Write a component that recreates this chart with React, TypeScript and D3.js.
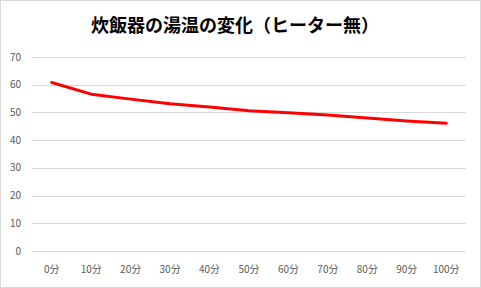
import React from "react";
import * as d3 from "d3";

const categories = ["0分", "10分", "20分", "30分", "40分", "50分", "60分", "70分", "80分", "90分", "100分"];
const temps = [60.8, 56.6, 54.8, 53.1, 52.0, 50.6, 49.9, 49.1, 48.0, 46.9, 46.1];
const yTicks = [0, 10, 20, 30, 40, 50, 60, 70];
const title = "炊飯器の湯温の変化（ヒーター無）";

const W = 481;
const H = 288;
const M = { left: 32, right: 15, top: 57, bottom: 37 };

export default function App() {
  const x = d3
    .scaleBand<string>()
    .domain(categories)
    .range([M.left, W - M.right])
    .paddingInner(0)
    .paddingOuter(0);
  const y = d3.scaleLinear().domain([0, 70]).range([H - M.bottom, M.top]);
  const line = d3
    .line<number>()
    .x((_, i) => (x(categories[i]) as number) + x.bandwidth() / 2)
    .y((d) => y(d));
  const font = "'Noto Sans CJK JP', 'Noto Sans', sans-serif";
  return (
    <svg
      width={W}
      height={H}
      style={{ position: "fixed", left: 0, top: 0, background: "#fff" }}
      fontFamily={font}
    >
      <rect x={0.5} y={0.5} width={W - 1} height={H - 1} fill="#fff" stroke="#d9d9d9" />
      <text x={235} y={32} textAnchor="middle" fontSize={18} fontWeight="bold" fill="#000">
        {title}
      </text>
      {yTicks.map((t) => (
        <g key={t}>
          <line x1={M.left} x2={W - M.right} y1={Math.round(y(t)) + 0.5} y2={Math.round(y(t)) + 0.5} stroke="#d9d9d9" />
          <text x={21} y={y(t)} dy="0.35em" textAnchor="end" fontSize={10} fill="#595959">
            {t}
          </text>
        </g>
      ))}
      {categories.map((c) => (
        <text
          key={c}
          x={(x(c) as number) + x.bandwidth() / 2}
          y={269}
          dy="0.35em"
          textAnchor="middle"
          fontSize={10}
          fill="#595959"
        >
          {c}
        </text>
      ))}
      <path d={line(temps) || ""} fill="none" stroke="#ff0000" strokeWidth={3} strokeLinejoin="round" strokeLinecap="round" />
    </svg>
  );
}
